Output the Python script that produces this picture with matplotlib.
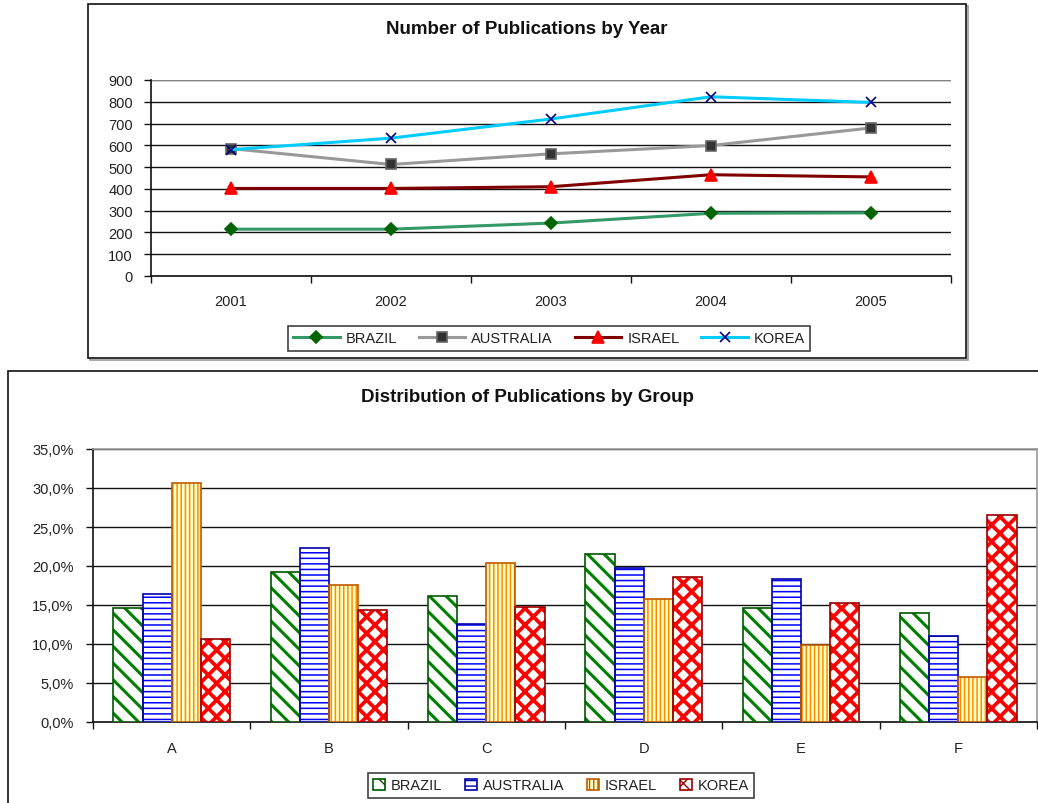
import matplotlib
matplotlib.use("Agg")
import matplotlib.pyplot as plt
import matplotlib.patches as mpatches
from matplotlib.ticker import FuncFormatter, FixedLocator
import numpy as np

plt.rcParams['font.family'] = ['Liberation Sans', 'DejaVu Sans']

# Publications per year
years = ['2001', '2002', '2003', '2004', '2005']
brazil = [215, 215, 243, 288, 290]
australia = [585, 512, 561, 599, 680]
israel = [402, 402, 410, 465, 455]
korea = [580, 633, 721, 823, 797]

# Share of publications per group (%)
groups = ['A', 'B', 'C', 'D', 'E', 'F']
brazil_pct = [14.6, 19.2, 16.2, 21.6, 14.6, 14.0]
australia_pct = [16.4, 22.3, 12.6, 19.7, 18.3, 11.0]
israel_pct = [30.7, 17.6, 20.4, 15.8, 9.9, 5.8]
korea_pct = [10.6, 14.4, 14.8, 18.6, 15.3, 26.5]

countries = ['BRAZIL', 'AUSTRALIA', 'ISRAEL', 'KOREA']
text_col = '#222222'

W, H = 1038, 804
fig = plt.figure(figsize=(W / 100, H / 100), dpi=100)


def fbox(x0, y0, x1, y1):
    # pixel box (top-left origin) -> figure fraction rect
    return [x0 / W, 1 - y1 / H, (x1 - x0) / W, (y1 - y0) / H]


def frame(x0, y0, x1, y1):
    l, b, w, h = fbox(x0, y0, x1, y1)
    sh = mpatches.Rectangle((l + 2 / W, b - 2 / H), w, h, transform=fig.transFigure,
                            facecolor='none', edgecolor='#9a9a9a', lw=1.2, zorder=-2)
    fr = mpatches.Rectangle((l, b), w, h, transform=fig.transFigure,
                            facecolor='white', edgecolor='#111111', lw=1.2, zorder=-1)
    fig.patches.extend([sh, fr])


frame(88, 5, 966, 359)
frame(8, 372, 1060, 830)

# ---- line chart ----
ax1 = fig.add_axes(fbox(151, 81, 951, 277))
ax1.patch.set_alpha(0)
xc = np.arange(len(years)) + 0.5
styles = [
    (brazil, '#339966', 'D', '#006400', '#006400', 6),
    (australia, '#999999', 's', '#333333', '#666666', 6.5),
    (israel, '#800000', '^', '#ff0000', '#ff0000', 8),
    (korea, '#00ccff', 'x', '#000080', '#000080', 7),
]
handles = []
for (vals, lc, mk, mfc, mec, ms), name in zip(styles, countries):
    ln, = ax1.plot(xc, vals, color=lc, lw=2.2, marker=mk, markersize=ms,
                   markerfacecolor=mfc, markeredgecolor=mec, markeredgewidth=1.2,
                   label=name, zorder=3)
    handles.append(ln)

ax1.set_xlim(0, len(years))
ax1.set_ylim(0, 900)
ax1.set_yticks(np.arange(0, 901, 100))
ax1.yaxis.grid(True, color='#111111', lw=1.0)
ax1.set_axisbelow(True)
ax1.xaxis.set_major_locator(FixedLocator(np.arange(0, len(years) + 1)))
ax1.xaxis.set_minor_locator(FixedLocator(xc))
ax1.set_xticklabels([], minor=False)
ax1.set_xticklabels(years, minor=True)
ax1.tick_params(axis='x', which='major', length=5, width=1, color='#111111')
ax1.tick_params(axis='x', which='minor', length=0, pad=13, labelsize=10.5, labelcolor=text_col)
ax1.tick_params(axis='y', length=5, width=1, color='#111111', pad=8, labelsize=10.5,
                labelcolor=text_col)
for s in ['left', 'bottom']:
    ax1.spines[s].set_color('#111111')
    ax1.spines[s].set_linewidth(1.2)
for s in ['top', 'right']:
    ax1.spines[s].set_visible(False)
ax1.axhline(900, color='#999999', lw=1.2)

fig.text(527 / W, 1 - 30 / H, 'Number of Publications by Year', ha='center', va='center',
         fontsize=13.5, fontweight='bold', color='#111111')

leg1 = fig.legend(handles=handles, loc='center', bbox_to_anchor=(549 / W, 1 - 339.5 / H),
                  ncol=4, fontsize=10.5, frameon=True, fancybox=False, handlelength=3.2,
                  handletextpad=0.4, columnspacing=1.5, borderpad=0.35, labelcolor=text_col)
leg1.get_frame().set_edgecolor('#111111')
leg1.get_frame().set_linewidth(1.2)

# ---- bar chart ----
ax2 = fig.add_axes(fbox(93, 450, 1037, 723))
ax2.patch.set_alpha(0)
n = len(groups)
xg = np.arange(n) + 0.5
bw = 0.185
offsets = (np.arange(4) - 1.5) * bw

bar_styles = [
    # face, hatch, hatch colour, hatch lw, outline
    (brazil_pct, 'white', '\\\\', '#008000', 2.2, '#005500'),
    (australia_pct, 'white', '---', '#0000ff', 1.1, '#0000aa'),
    (israel_pct, '#ffffc8', '||||', '#ff8c00', 1.1, '#c05a00'),
    (korea_pct, 'white', 'xx', '#ff0000', 2.7, '#990000'),
]
leg_handles = []
for i, ((vals, face, hatch, hc, hlw, oc), name) in enumerate(zip(bar_styles, countries)):
    with plt.rc_context({'hatch.linewidth': hlw}):
        bars = ax2.bar(xg + offsets[i], vals, bw, color=face, edgecolor=hc, hatch=hatch,
                       lw=0, zorder=3)
        for b in bars:
            if hasattr(b, 'set_hatch_linewidth'):
                b.set_hatch_linewidth(hlw)
    ax2.bar(xg + offsets[i], vals, bw, facecolor='none', edgecolor=oc, lw=1.2, zorder=4)
    leg_handles.append(mpatches.Patch(facecolor=face, edgecolor=oc, hatch=hatch, lw=1.2,
                                      label=name))

ax2.set_xlim(0, n)
ax2.set_ylim(0, 35)
ax2.set_yticks(np.arange(0, 36, 5))
ax2.yaxis.set_major_formatter(FuncFormatter(lambda v, p: f'{v:.1f}%'.replace('.', ',')))
ax2.yaxis.grid(True, color='#111111', lw=1.0)
ax2.set_axisbelow(True)
ax2.xaxis.set_major_locator(FixedLocator(np.arange(0, n + 1)))
ax2.xaxis.set_minor_locator(FixedLocator(xg))
ax2.set_xticklabels([], minor=False)
ax2.set_xticklabels(groups, minor=True)
ax2.tick_params(axis='x', which='major', length=5, width=1, color='#111111')
ax2.tick_params(axis='x', which='minor', length=0, pad=14, labelsize=10.5, labelcolor=text_col)
ax2.tick_params(axis='y', length=5, width=1, color='#111111', pad=9, labelsize=10.5,
                labelcolor=text_col)
for s in ['left', 'bottom']:
    ax2.spines[s].set_color('#111111')
    ax2.spines[s].set_linewidth(1.2)
for s in ['top', 'right']:
    ax2.spines[s].set_color('#999999')
    ax2.spines[s].set_linewidth(1.2)

fig.text(527 / W, 1 - 398 / H, 'Distribution of Publications by Group', ha='center',
         va='center', fontsize=13.5, fontweight='bold', color='#111111')

leg2 = fig.legend(handles=leg_handles, loc='center', bbox_to_anchor=(561 / W, 1 - 786.5 / H),
                  ncol=4, fontsize=10.5, frameon=True, fancybox=False, handlelength=0.8,
                  handleheight=0.8, handletextpad=0.4, columnspacing=1.6, borderpad=0.35,
                  labelcolor=text_col)
leg2.get_frame().set_edgecolor('#111111')
leg2.get_frame().set_linewidth(1.2)

fig.savefig('out.png', dpi=100)
